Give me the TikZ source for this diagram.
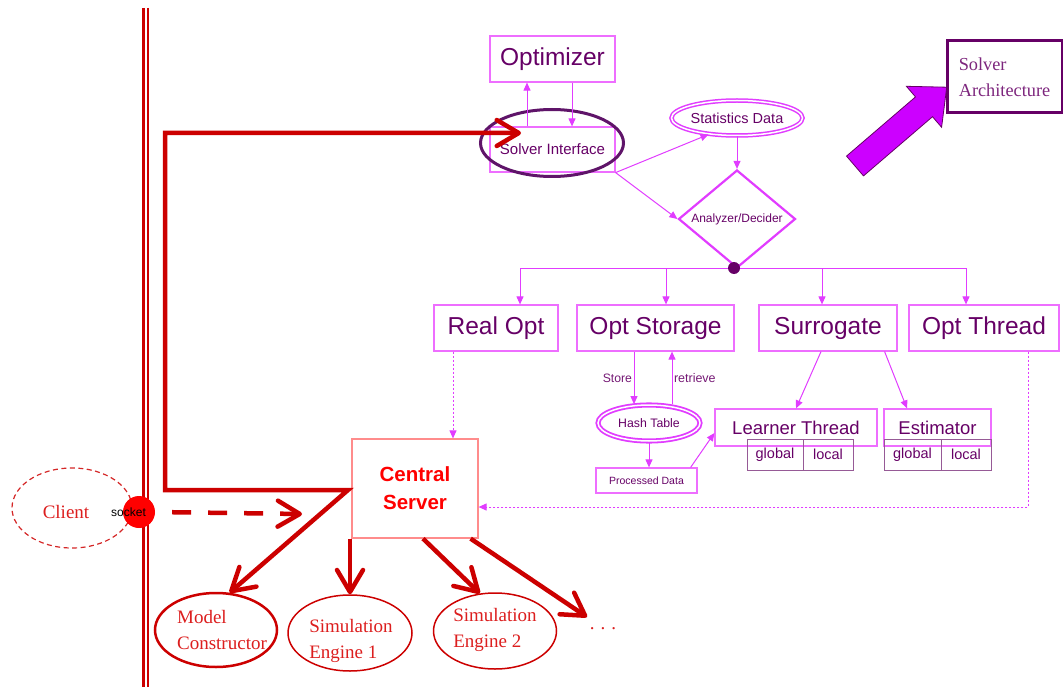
\documentclass[tikz,border=0pt]{standalone}
\usepackage{fontspec}
\setmainfont{Liberation Serif}
\newfontfamily\sansf{Liberation Sans}
\usetikzlibrary{arrows.meta,shapes.geometric,calc}
\definecolor{mag}{RGB}{225,60,255}
\definecolor{boxmag}{RGB}{238,110,255}
\definecolor{dpurp}{RGB}{102,0,102}
\definecolor{ellpurp}{RGB}{95,20,105}
\definecolor{darkred}{RGB}{204,0,0}
\definecolor{srvborder}{RGB}{255,140,140}
\definecolor{brightred}{RGB}{255,0,0}
\definecolor{seriftext}{RGB}{220,30,30}
\definecolor{tablec}{RGB}{150,90,150}
\definecolor{bigarrow}{RGB}{204,0,255}
\tikzset{
 sbox/.style={draw=boxmag, line width=1.2pt, inner sep=0pt, text=dpurp},
 mbox/.style={sbox, minimum height=46pt, font=\sansf\fontsize{24.5}{28}\selectfont},
 marr/.style={draw=mag, line width=1pt, -{Triangle[length=8pt,width=7pt]}},
 mdash/.style={marr, dash pattern=on 2pt off 2pt},
 cell/.style={draw=tablec, line width=0.8pt, minimum height=31pt, inner sep=0pt, text=dpurp, font=\sansf\fontsize{14.5}{17}\selectfont},
 bigbarb/.tip={Straight Barb[length=22pt,width=26pt,round]},
 redarr/.style={draw=darkred, line width=4.5pt, -bigbarb},
 simell/.style={ellipse, draw=darkred, line width=1.5pt, inner sep=0pt},
 serift/.style={text=seriftext, font=\fontsize{19}{26}\selectfont, inner sep=0pt},
 dbell/.style={ellipse, draw=mag, double=white, double distance=1.5pt, inner sep=0pt, text=dpurp}
}
\begin{document}
\begin{tikzpicture}[x=1pt,y=-1pt]
\useasboundingbox (0,0) rectangle (1063,687);
% vertical double line
\draw[darkred, line width=3pt] (143.5,8) -- (143.5,687);
\draw[darkred, line width=2pt] (148,8) -- (148,687);

% solver side
\node[sbox, minimum width=125pt, minimum height=46pt, font=\sansf\fontsize{24.5}{28}\selectfont] (opt) at (552.5,59) {Optimizer};
\node[sbox, minimum width=125pt, minimum height=45pt, font=\sansf\fontsize{15}{18}\selectfont] (si) at (552.5,149.5) {Solver Interface};
\node[ellipse, draw=ellpurp, line width=3pt, minimum width=143pt, minimum height=67pt] (siell) at (552,143) {};
\node[dbell, line width=1.5pt, minimum width=101pt, minimum height=35pt, font=\sansf\fontsize{14.5}{17}\selectfont] (stat) at (737,118) {Statistics Data};
\node[diamond, aspect=1.2, draw=mag, line width=2.2pt, minimum width=117pt, minimum height=98pt, inner sep=0pt, text=dpurp, font=\sansf\fontsize{12}{14}\selectfont] (ana) at (737,219) {Analyzer/Decider};
\node[circle, fill=dpurp, minimum size=12pt, inner sep=0pt] (dot) at (734,268) {};

\node[mbox, minimum width=124pt] (realopt) at (496,328) {Real Opt};
\node[mbox, minimum width=157pt] (optstor) at (655.5,328) {Opt Storage};
\node[mbox, minimum width=138pt] (surr) at (828,328) {Surrogate};
\node[mbox, minimum width=150pt] (optthr) at (984,328) {Opt Thread};

\node[dbell, line width=1.8pt, minimum width=102pt, minimum height=36pt, font=\sansf\fontsize{12.3}{14}\selectfont] (hash) at (649,423) {Hash Table};
\node[sbox, minimum width=101pt, minimum height=25pt, font=\sansf\fontsize{10.5}{12}\selectfont] (proc) at (646.5,480.5) {Processed Data};

\node[sbox, minimum width=162pt, minimum height=37pt, font=\sansf\fontsize{18.5}{22}\selectfont] (learner) at (796,427.5) {Learner Thread};
\node[cell, minimum width=56pt] (lg) at (775,454.5) {global};
\node[cell, minimum width=50pt] (ll) at (828,454.5) {local};
\node[sbox, minimum width=107pt, minimum height=37pt, font=\sansf\fontsize{18.5}{22}\selectfont] (est) at (937.5,427.5) {Estimator};
\node[cell, minimum width=57pt] (eg) at (912.5,454.5) {global};
\node[cell, minimum width=50pt] (el) at (966,454.5) {local};

% solver architecture label
\node[draw=dpurp, line width=3pt, minimum width=115pt, minimum height=72pt, inner sep=0pt, align=left, text=dpurp!85, font=\fontsize{18.3}{26}\selectfont] (solarch) at (1004.5,77) {Solver\\Architecture};
\draw[fill=bigarrow, draw=dpurp, line width=0.8pt] (846.5,156.1) -- (915.5,96.9) -- (906.4,86.3) -- (946.7,87.2) -- (941.6,127.3) -- (932.5,116.7) -- (863.5,175.9) -- cycle;

% server side
\node[draw=srvborder, line width=1.2pt, minimum width=126pt, minimum height=99pt, align=center, text=brightred, font=\sansf\bfseries\fontsize{20.5}{28}\selectfont] (central) at (415,488.5) {Central\\Server};
\node[ellipse, draw=darkred!85!white, dash pattern=on 5pt off 3.5pt, line width=1.2pt, minimum width=120pt, minimum height=80pt] (client) at (72,508) {};
\node[serift] (clientt) at (66,512) {Client};
\node[circle, fill=brightred, minimum size=32pt, inner sep=0pt] (socket) at (139,512) {};
\node[font=\sansf\fontsize{12}{14}\selectfont, inner sep=0pt] (sockt) at (128.5,512) {socket};

\node[simell, line width=2.5pt, minimum width=122pt, minimum height=74pt] (model) at (216,630) {};
\node[simell, minimum width=124pt, minimum height=76pt] (sim1) at (350,633) {};
\node[simell, minimum width=123pt, minimum height=76pt] (sim2) at (495,631) {};
\node[serift, align=left] (modelt) at (222,630) {Model\\Constructor};
\node[serift, align=left] (sim1t) at (351,641) {Simulation\\Engine 1};
\node[serift, align=left] (sim2t) at (495,630) {Simulation\\Engine 2};
\node[serift] (dots) at (603,629) {.\hspace{6pt}.\hspace{6pt}.};

% magenta connectors
\draw[marr] ([xshift=-25.5pt]si.north) -- ([xshift=-25.5pt]opt.south);
\draw[marr] ([xshift=19.5pt]opt.south) -- ([xshift=19.5pt]si.north);
\draw[marr] (si.south east) -- (stat.210);
\draw[marr] (si.south east) -- (ana.west);
\draw[marr] (stat.south) -- (ana.north);
\draw[marr] (dot) -| ([xshift=24pt]realopt.north);
\draw[marr] (dot) -| ([xshift=10.5pt]optstor.north);
\draw[marr] (dot) -| ([xshift=-6pt]surr.north);
\draw[marr] (dot) -| ([xshift=-18pt]optthr.north);
\coordinate (st) at ([xshift=-21.5pt]optstor.south);
\draw[marr] (st) -- (st |- hash.north) node[pos=0.5, left, inner sep=1.5pt, text=dpurp!90, font=\sansf\fontsize{12.2}{14}\selectfont] {Store};
\coordinate (rt) at ([xshift=16.5pt]optstor.south);
\draw[marr] (rt |- hash.north) -- (rt) node[pos=0.5, right, inner sep=1.5pt, text=dpurp!90, font=\sansf\fontsize{12.5}{14}\selectfont] {retrieve};
\draw[marr] (hash.south) -- (hash.south |- proc.north);
\draw[marr] ([xshift=-7pt]proc.north east) -- ([yshift=-5.5pt]learner.west);
\draw[marr] ([xshift=-7pt]surr.south) -- (learner.north);
\draw[marr] ([xshift=-13pt]surr.south east) -- ([xshift=-30.5pt]est.north);
\coordinate (ro) at ([xshift=-43pt]realopt.south);
\draw[mdash] (ro) -- (ro |- central.north);
\draw[mdash] ([xshift=44pt]optthr.south) |- ([yshift=-18.5pt]central.east);

% red connectors
\coordinate (corner) at (348,490);
\coordinate (sitip) at (521,133);
\draw[redarr, line join=miter, bigbarb-bigbarb] (model.70) -- (corner) -- (165,490) -- (165,133) -- (sitip);
\coordinate (cltip) at (302,514);
\draw[redarr, dash pattern=on 19pt off 17pt, dash phase=19pt] (socket.east) -- (cltip);
\draw[redarr] (sim1.north |- central.south) -- (sim1.north);
\draw[redarr] ([xshift=8pt]central.south) -- (sim2.112);
\coordinate (dotstip) at (587,617);
\draw[redarr] ([xshift=-8pt]central.south east) -- (dotstip);
\end{tikzpicture}
\end{document}
